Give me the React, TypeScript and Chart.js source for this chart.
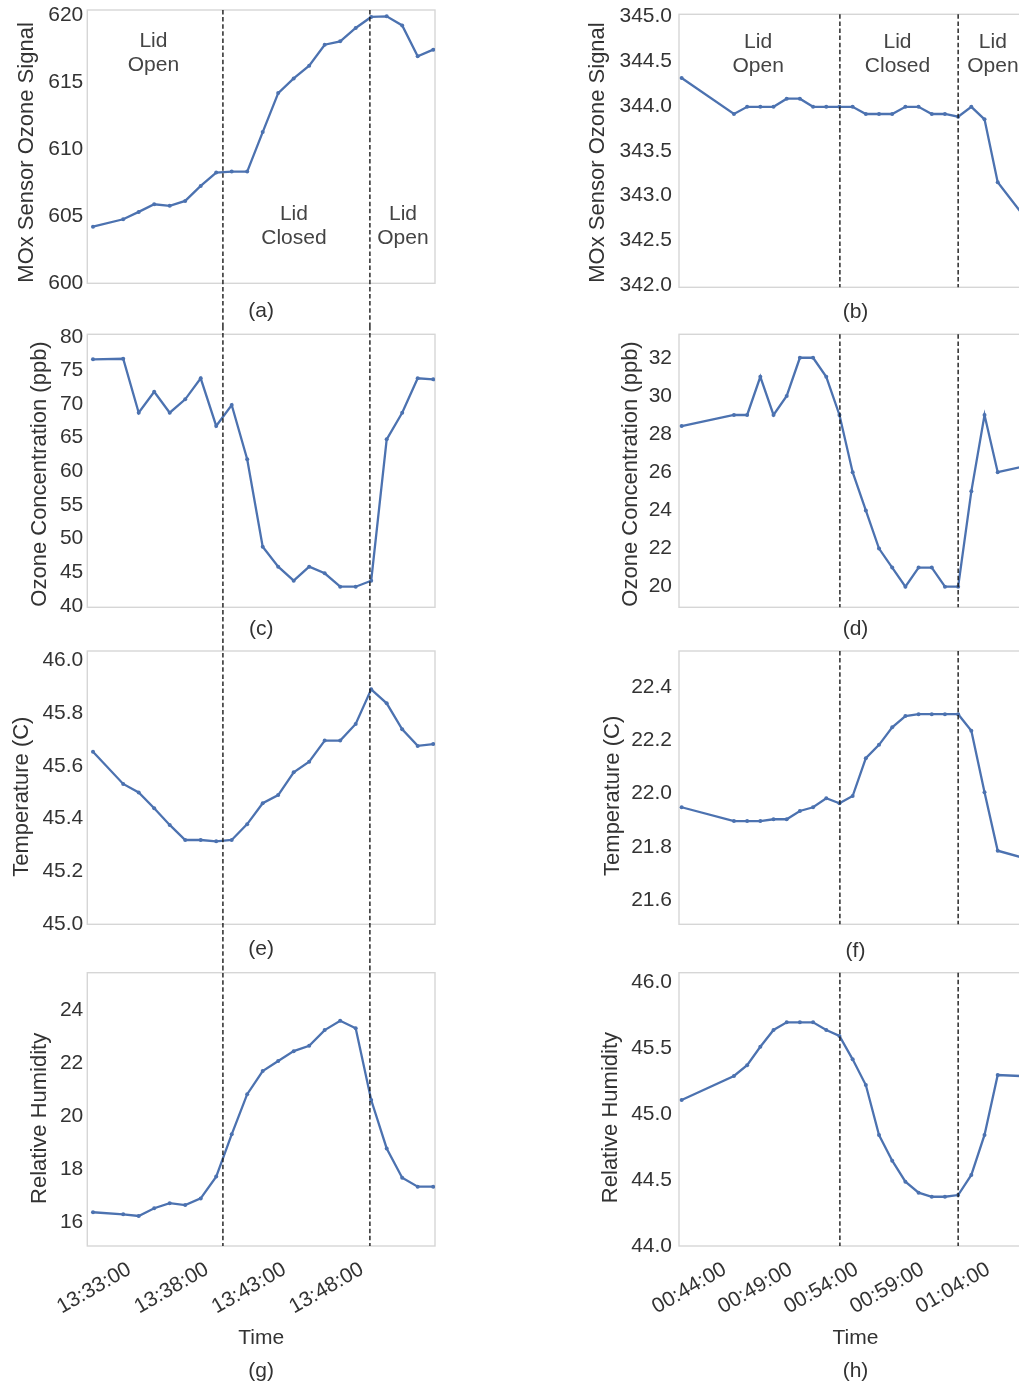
import React, { useEffect, useRef } from "react";
import { Chart, registerables } from "chart.js";

Chart.register(...registerables);

// ---------------- data ----------------
const leftTimes = [
  "13:30:25", "13:32:22", "13:33:22", "13:34:22", "13:35:22", "13:36:22", "13:37:22", "13:38:22",
  "13:39:22", "13:40:22", "13:41:22", "13:42:22", "13:43:22", "13:44:22", "13:45:22", "13:46:22",
  "13:47:22", "13:48:22", "13:49:22", "13:50:22", "13:51:22", "13:52:22",
];
const leftMox = [
  604.23, 604.78, 605.33, 605.9, 605.78, 606.15, 607.27, 608.27, 608.34, 608.34, 611.29,
  614.2, 615.29, 616.24, 617.81, 618.06, 619.06, 619.88, 619.93, 619.25, 616.94, 617.44,
];
const leftOzone = [
  76.64, 76.73, 68.71, 71.83, 68.71, 70.7, 73.82, 66.74, 69.85, 61.79, 48.8,
  45.83, 43.75, 45.83, 44.85, 42.86, 42.86, 43.75, 64.76, 68.71, 73.82, 73.67,
];
const leftTemp = [
  45.653, 45.531, 45.499, 45.439, 45.376, 45.319, 45.319, 45.314, 45.319, 45.379, 45.458,
  45.489, 45.575, 45.615, 45.695, 45.695, 45.758, 45.889, 45.836, 45.738, 45.675, 45.682,
];
const leftHumidity = [
  16.39, 16.31, 16.25, 16.54, 16.73, 16.66, 16.91, 17.73, 19.32, 20.83, 21.7,
  22.08, 22.45, 22.65, 23.24, 23.59, 23.31, 20.61, 18.79, 17.69, 17.35, 17.35,
];

const rightTimes = [
  "00:40:28", "00:44:26", "00:45:26", "00:46:26", "00:47:26", "00:48:26", "00:49:26", "00:50:26",
  "00:51:26", "00:52:26", "00:53:26", "00:54:26", "00:55:26", "00:56:26", "00:57:26", "00:58:26",
  "00:59:26", "01:00:26", "01:01:26", "01:02:26", "01:03:26", "01:04:26", "01:08:26",
];
const rightMox = [
  344.31, 343.91, 343.99, 343.99, 343.99, 344.08, 344.08, 343.99, 343.99, 343.99, 343.99, 343.91,
  343.91, 343.91, 343.99, 343.99, 343.91, 343.91, 343.88, 343.99, 343.85, 343.15, 342.39,
];
const rightOzone = [
  28.42, 29, 29, 31, 29, 30, 32, 32, 31, 29, 26, 24, 22, 21, 20, 21, 21, 20, 20, 25, 29, 26, 26.61,
];
const rightTemp = [
  21.948, 21.896, 21.896, 21.896, 21.903, 21.903, 21.934, 21.948, 21.982, 21.963, 21.99, 22.132,
  22.182, 22.248, 22.29, 22.297, 22.297, 22.297, 22.297, 22.235, 22.004, 21.785, 21.73,
];
const rightHumidity = [
  45.106, 45.288, 45.369, 45.509, 45.636, 45.694, 45.694, 45.694, 45.636, 45.591, 45.414, 45.219,
  44.841, 44.646, 44.487, 44.404, 44.373, 44.373, 44.386, 44.538, 44.841, 45.295, 45.278,
];

const leftLidEvents = ["13:38:48", "13:48:17"];
const rightLidEvents = ["00:52:28", "01:01:26"];

const leftTickTimes = ["13:33:00", "13:38:00", "13:43:00", "13:48:00"];
const rightTickTimes = ["00:44:00", "00:49:00", "00:54:00", "00:59:00", "01:04:00"];
const leftRange = ["13:30:03", "13:52:29"];
const rightRange = ["00:40:16", "01:07:02"];

const moxLeftTicks = [600, 605, 610, 615, 620];
const ozoneLeftTicks = [40, 45, 50, 55, 60, 65, 70, 75, 80];
const tempLeftTicks = [45.0, 45.2, 45.4, 45.6, 45.8, 46.0];
const humidityLeftTicks = [16, 18, 20, 22, 24];
const moxRightTicks = [342.0, 342.5, 343.0, 343.5, 344.0, 344.5, 345.0];
const ozoneRightTicks = [20, 22, 24, 26, 28, 30, 32];
const tempRightTicks = [21.6, 21.8, 22.0, 22.2, 22.4];
const humidityRightTicks = [44.0, 44.5, 45.0, 45.5, 46.0];

const leftNoteTimes = ["13:34:19", "13:43:23", "13:50:25"];
const leftNoteValues = [617.16, 604.23, 604.23];
const rightNoteTimes = ["00:46:16", "00:56:50", "01:04:04"];
const rightNoteValues = [344.58, 344.58, 344.58];
const noteLabels = [["Lid", "Open"], ["Lid", "Closed"], ["Lid", "Open"]];

// ---------------- helpers ----------------
const FONT = '"Liberation Sans", Arial, Helvetica, sans-serif';
const TEXT = "#333333";
const NOTE = "#444444";
const LINE = "#4C72B0";
const FRAME = "#d6d6d6";

function toMinutes(t: string): number {
  const [h, m, s] = t.split(":").map(Number);
  return h * 60 + m + s / 60;
}
function fmtTime(v: number): string {
  const total = Math.round(v * 60);
  const h = Math.floor(total / 3600) % 24;
  const m = Math.floor((total % 3600) / 60);
  const s = total % 60;
  const p = (n: number) => String(n).padStart(2, "0");
  return `${p(h)}:${p(m)}:${p(s)}`;
}

type Note = { time: string; value: number; lines: string[] };
type LidMode = "inside" | "top" | "through" | "bottom";

interface PanelSpec {
  id: string;
  left: number; top: number; width: number; height: number;
  padTop: number; padRight: number; yAxisWidth: number; xAxisHeight: number;
  times: string[]; values: number[];
  xRange: string[]; xTicks: string[]; showXTicks: boolean;
  yMin: number; yMax: number; yTicks: number[]; yDecimals: number; yTickPad: number;
  xTitle: string | string[]; xTitleLineHeight: number; xTitlePadBottom: number;
  yTitle: string; yTitleX: number; yTitleDy: number;
  lids: string[]; lidMode: LidMode;
  notes: Note[];
}

const makeNotes = (times: string[], values: number[]): Note[] =>
  times.map((t, i) => ({ time: t, value: values[i], lines: noteLabels[i] }));

const L = { left: 0, width: 500, padRight: 65, yAxisWidth: 87.3, xRange: leftRange, xTicks: leftTickTimes, lids: leftLidEvents, yTickPad: 4 };
const R = { left: 560, width: 520, padRight: 48, yAxisWidth: 119, xRange: rightRange, xTicks: rightTickTimes, lids: rightLidEvents, yTickPad: 7, lidMode: "inside" as LidMode };

const panels: PanelSpec[] = [
  {
    ...L, id: "a", top: 0, height: 326, padTop: 10, xAxisHeight: 42.7,
    times: leftTimes, values: leftMox, showXTicks: false,
    yMin: 600, yMax: 620.4, yTicks: moxLeftTicks, yDecimals: 0,
    xTitle: "(a)", xTitleLineHeight: 1.2, xTitlePadBottom: 2.4,
    yTitle: "MOx Sensor Ozone Signal", yTitleX: 26.7, yTitleDy: 5.8,
    lidMode: "top", notes: makeNotes(leftNoteTimes, leftNoteValues),
  },
  {
    ...L, id: "c", top: 326, height: 320, padTop: 8.3, xAxisHeight: 38.7,
    times: leftTimes, values: leftOzone, showXTicks: false,
    yMin: 39.8, yMax: 80.36, yTicks: ozoneLeftTicks, yDecimals: 0,
    xTitle: "(c)", xTitleLineHeight: 1.2, xTitlePadBottom: 4.4,
    yTitle: "Ozone Concentration (ppb)", yTitleX: 40, yTitleDy: 3.2,
    lidMode: "through", notes: [],
  },
  {
    ...L, id: "e", top: 646, height: 320, padTop: 5, xAxisHeight: 41.7,
    times: leftTimes, values: leftTemp, showXTicks: false,
    yMin: 45.0, yMax: 46.034, yTicks: tempLeftTicks, yDecimals: 1,
    xTitle: "(e)", xTitleLineHeight: 1.2, xTitlePadBottom: 3.9,
    yTitle: "Temperature (C)", yTitleX: 22, yTitleDy: 9,
    lidMode: "through", notes: [],
  },
  {
    ...L, id: "g", top: 966, height: 424, padTop: 6.7, xAxisHeight: 144,
    times: leftTimes, values: leftHumidity, showXTicks: true,
    yMin: 15.12, yMax: 25.4, yTicks: humidityLeftTicks, yDecimals: 0,
    xTitle: ["Time", "(g)"], xTitleLineHeight: 33 / 21, xTitlePadBottom: 1.8,
    yTitle: "Relative Humidity", yTitleX: 40, yTitleDy: 9,
    lidMode: "bottom", notes: [],
  },
  {
    ...R, id: "b", top: 0, height: 326, padTop: 14.3, xAxisHeight: 38.7,
    times: rightTimes, values: rightMox, showXTicks: false,
    yMin: 341.98, yMax: 345.02, yTicks: moxRightTicks, yDecimals: 1,
    xTitle: "(b)", xTitleLineHeight: 1.2, xTitlePadBottom: 0.7,
    yTitle: "MOx Sensor Ozone Signal", yTitleX: 38.3, yTitleDy: 1.7,
    notes: makeNotes(rightNoteTimes, rightNoteValues),
  },
  {
    ...R, id: "d", top: 326, height: 320, padTop: 8.3, xAxisHeight: 38.7,
    times: rightTimes, values: rightOzone, showXTicks: false,
    yMin: 18.92, yMax: 33.23, yTicks: ozoneRightTicks, yDecimals: 0,
    xTitle: "(d)", xTitleLineHeight: 1.2, xTitlePadBottom: 4.1,
    yTitle: "Ozone Concentration (ppb)", yTitleX: 70.8, yTitleDy: 3.2,
    notes: [],
  },
  {
    ...R, id: "f", top: 646, height: 320, padTop: 5, xAxisHeight: 41.7,
    times: rightTimes, values: rightTemp, showXTicks: false,
    yMin: 21.509, yMax: 22.534, yTicks: tempRightTicks, yDecimals: 1,
    xTitle: "(f)", xTitleLineHeight: 1.2, xTitlePadBottom: 1.7,
    yTitle: "Temperature (C)", yTitleX: 52.5, yTitleDy: 8.2,
    notes: [],
  },
  {
    ...R, id: "h", top: 966, height: 424, padTop: 6.7, xAxisHeight: 144,
    times: rightTimes, values: rightHumidity, showXTicks: true,
    yMin: 44.0, yMax: 46.07, yTicks: humidityRightTicks, yDecimals: 1,
    xTitle: ["Time", "(h)"], xTitleLineHeight: 33 / 21, xTitlePadBottom: 1.8,
    yTitle: "Relative Humidity", yTitleX: 50.8, yTitleDy: 8.2,
    notes: [],
  },
];

function decorPlugin(spec: PanelSpec) {
  return {
    id: "decor_" + spec.id,
    beforeDatasetsDraw(chart: any) {
      const { ctx, chartArea: a } = chart;
      ctx.save();
      ctx.strokeStyle = FRAME;
      ctx.lineWidth = 1.4;
      ctx.strokeRect(a.left, a.top, a.right - a.left, a.bottom - a.top);
      ctx.restore();
    },
    afterDatasetsDraw(chart: any) {
      const { ctx, chartArea: a, scales } = chart;
      const xs = scales.x;
      const ys = scales.y;
      ctx.save();
      ctx.strokeStyle = "#1a1a1a";
      ctx.lineWidth = 1.4;
      ctx.setLineDash([4.5, 2.6]);
      for (const t of spec.lids) {
        const x = xs.getPixelForValue(toMinutes(t));
        let y1 = a.top;
        let y2 = a.bottom;
        if (spec.lidMode === "top") y2 = chart.height;
        if (spec.lidMode === "through") { y1 = 0; y2 = chart.height; }
        if (spec.lidMode === "bottom") y1 = 0;
        ctx.beginPath();
        ctx.moveTo(x, y1);
        ctx.lineTo(x, y2);
        ctx.stroke();
      }
      ctx.restore();

      ctx.save();
      ctx.fillStyle = NOTE;
      ctx.font = `21px ${FONT}`;
      ctx.textAlign = "center";
      ctx.textBaseline = "middle";
      for (const n of spec.notes) {
        const x = xs.getPixelForValue(toMinutes(n.time));
        const y = ys.getPixelForValue(n.value);
        n.lines.forEach((line, i) => {
          ctx.fillText(line, x, y + (i - (n.lines.length - 1) / 2) * 24);
        });
      }
      ctx.restore();
    },
    afterDraw(chart: any) {
      const { ctx, chartArea: a } = chart;
      ctx.save();
      ctx.translate(spec.yTitleX, (a.top + a.bottom) / 2 + spec.yTitleDy);
      ctx.rotate(-Math.PI / 2);
      ctx.fillStyle = TEXT;
      ctx.font = `22px ${FONT}`;
      ctx.textAlign = "center";
      ctx.textBaseline = "middle";
      ctx.fillText(spec.yTitle, 0, 0);
      ctx.restore();
    },
  };
}

function Panel({ spec }: { spec: PanelSpec }) {
  const ref = useRef<HTMLCanvasElement | null>(null);
  useEffect(() => {
    if (!ref.current) return;
    const points = spec.times.map((t, i) => ({ x: toMinutes(t), y: spec.values[i] }));
    const chart = new Chart(ref.current, {
      type: "line",
      data: {
        datasets: [
          {
            data: points,
            borderColor: LINE,
            borderWidth: 2.3,
            pointRadius: 2.0,
            pointHoverRadius: 0,
            pointBorderWidth: 0,
            pointBackgroundColor: LINE,
            tension: 0,
            fill: false,
          },
        ],
      },
      options: {
        responsive: false,
        maintainAspectRatio: false,
        animation: false,
        events: [],
        devicePixelRatio: 1,
        layout: {
          autoPadding: false,
          padding: { left: 0, top: spec.padTop, right: spec.padRight, bottom: 0 },
        },
        plugins: { legend: { display: false }, tooltip: { enabled: false } },
        scales: {
          x: {
            type: "linear",
            position: "bottom",
            min: toMinutes(spec.xRange[0]),
            max: toMinutes(spec.xRange[1]),
            afterBuildTicks: (s: any) => {
              s.ticks = spec.xTicks.map((t) => ({ value: toMinutes(t) }));
            },
            afterFit: (s: any) => {
              s.height = spec.xAxisHeight;
              s.paddingLeft = 0;
              s.paddingRight = 0;
              s.paddingTop = 0;
              s.paddingBottom = 0;
            },
            grid: { display: false, drawTicks: false },
            border: { display: false },
            ticks: {
              display: spec.showXTicks,
              autoSkip: false,
              minRotation: 30,
              maxRotation: 30,
              padding: 11,
              labelOffset: -3.5,
              color: TEXT,
              font: { family: FONT, size: 21 },
              callback: (v: any) => fmtTime(Number(v)),
            },
            title: {
              display: true,
              text: spec.xTitle,
              color: TEXT,
              font: { family: FONT, size: 21, lineHeight: spec.xTitleLineHeight },
              padding: { top: 0, bottom: spec.xTitlePadBottom },
            },
          },
          y: {
            type: "linear",
            position: "left",
            min: spec.yMin,
            max: spec.yMax,
            afterBuildTicks: (s: any) => {
              s.ticks = spec.yTicks.map((v) => ({ value: v }));
            },
            afterFit: (s: any) => {
              s.width = spec.yAxisWidth;
              s.paddingTop = 0;
              s.paddingBottom = 0;
              s.paddingLeft = 0;
              s.paddingRight = 0;
            },
            grid: { display: false, drawTicks: false },
            border: { display: false },
            ticks: {
              padding: spec.yTickPad,
              color: TEXT,
              font: { family: FONT, size: 21 },
              callback: (v: any) => Number(v).toFixed(spec.yDecimals),
            },
            title: { display: false },
          },
        },
      } as any,
      plugins: [decorPlugin(spec)],
    });
    return () => chart.destroy();
  }, [spec]);

  return (
    <canvas
      ref={ref}
      width={spec.width}
      height={spec.height}
      style={{ position: "absolute", left: spec.left, top: spec.top, width: spec.width, height: spec.height }}
    />
  );
}

export default function App() {
  return (
    <div
      style={{
        position: "fixed",
        left: 0,
        top: 0,
        width: 1019,
        height: 1385,
        overflow: "hidden",
        background: "#ffffff",
      }}
    >
      {panels.map((p) => (
        <Panel key={p.id} spec={p} />
      ))}
    </div>
  );
}
